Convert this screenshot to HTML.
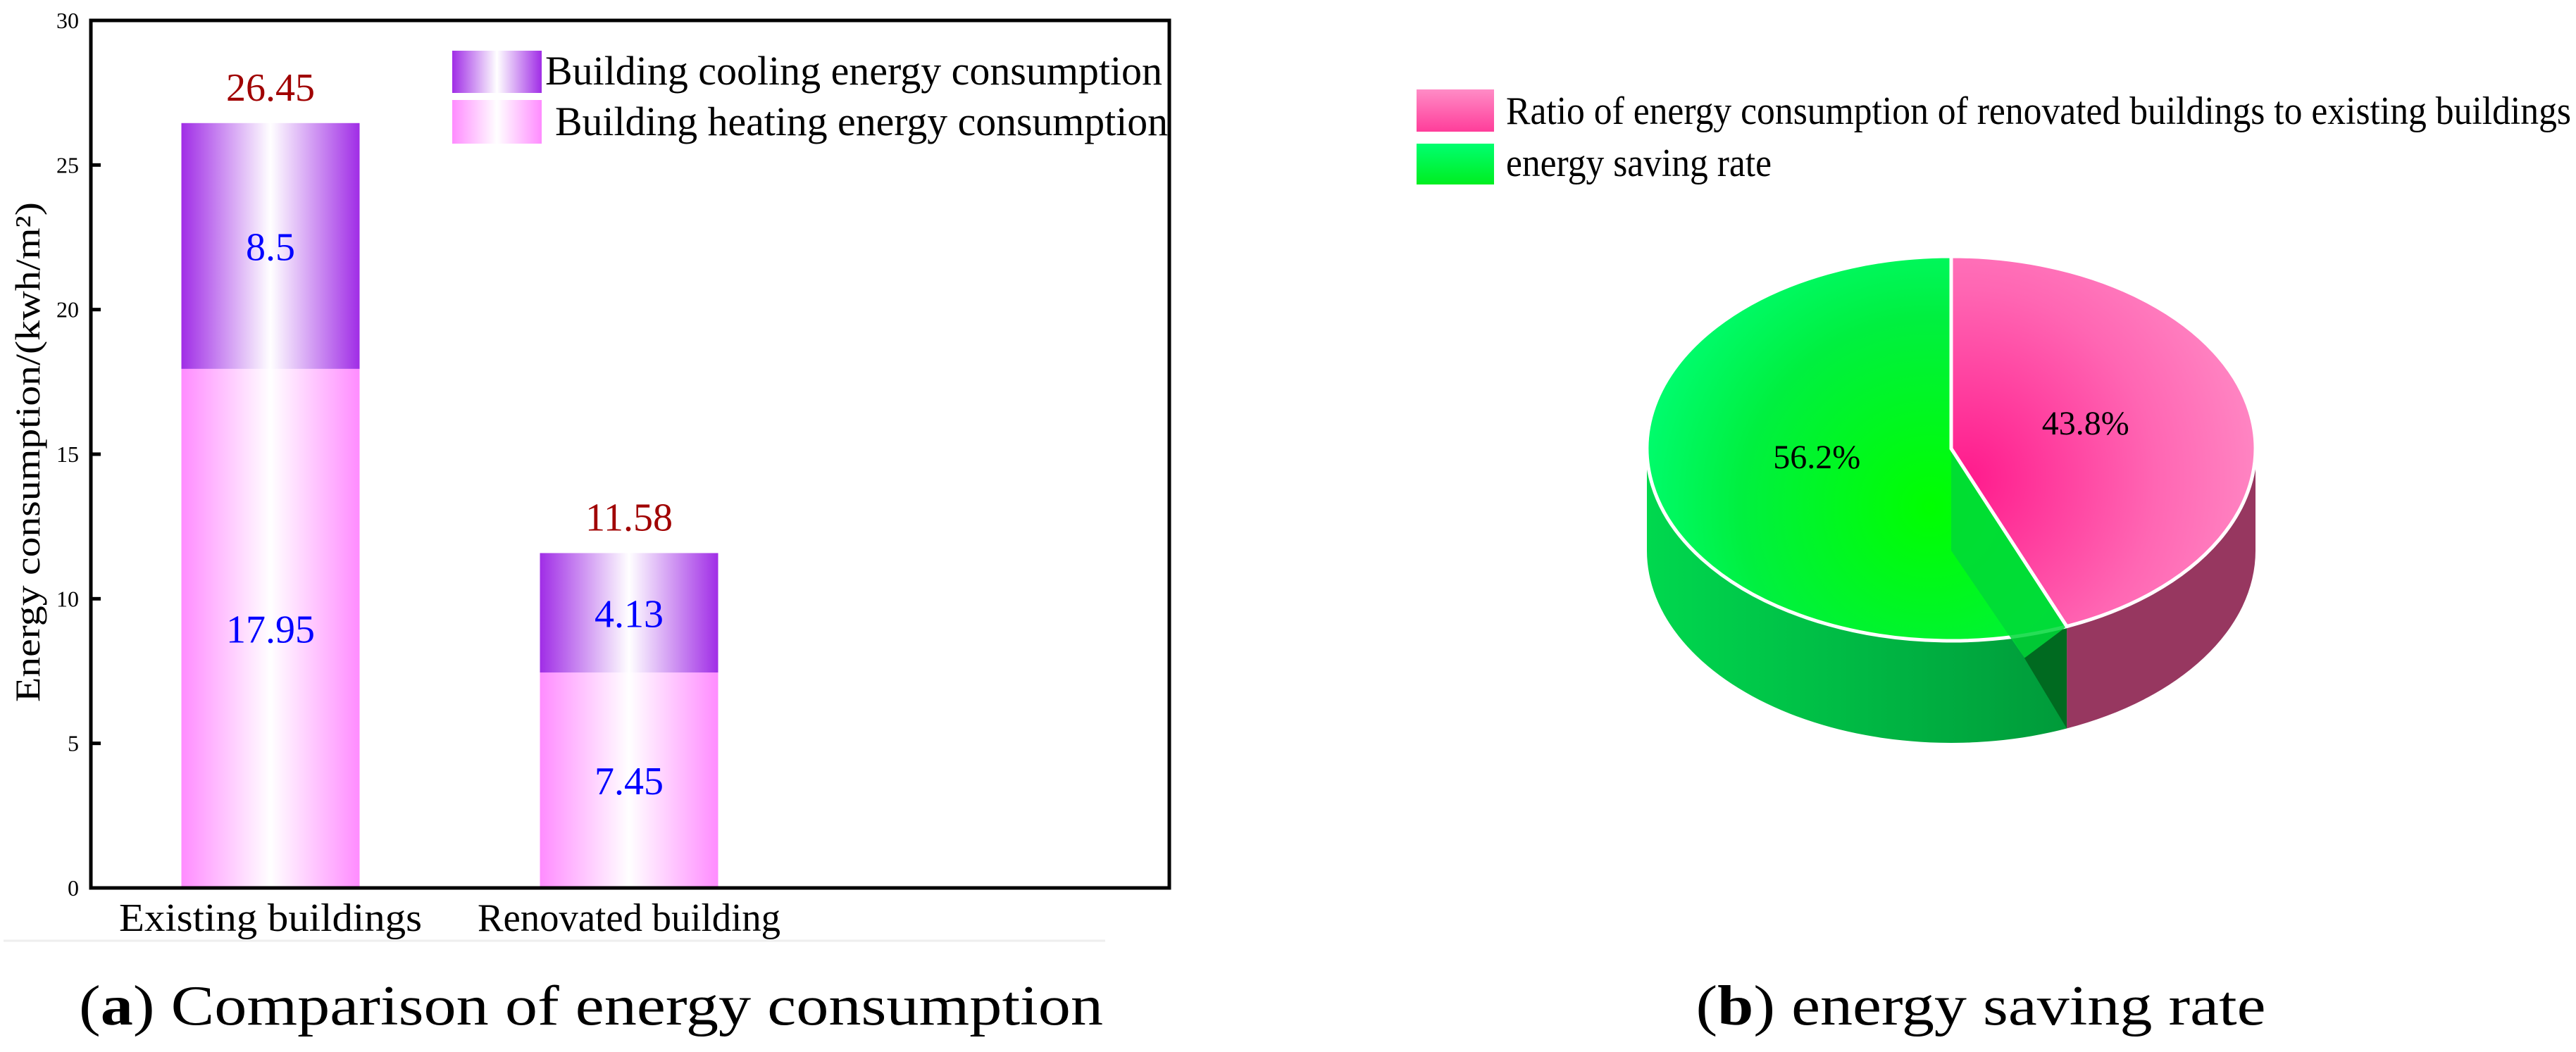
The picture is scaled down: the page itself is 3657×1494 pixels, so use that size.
<!DOCTYPE html>
<html><head><meta charset="utf-8"><style>
html,body{margin:0;padding:0;background:#fff;}
svg{display:block;font-family:"Liberation Serif",serif;}
</style></head><body>
<svg id="fig" width="3657" height="1494" viewBox="0 0 3657 1494" xmlns="http://www.w3.org/2000/svg">
<defs>
<linearGradient id="gHeat" x1="0" x2="1" y1="0" y2="0">
<stop offset="0" stop-color="#ff8cff"/><stop offset="0.5" stop-color="#ffffff"/><stop offset="1" stop-color="#ff8cff"/></linearGradient>
<linearGradient id="gCool" x1="0" x2="1" y1="0" y2="0">
<stop offset="0" stop-color="#a02de6"/><stop offset="0.5" stop-color="#ffffff"/><stop offset="1" stop-color="#a02de6"/></linearGradient>
<radialGradient id="gPinkTop" cx="2790" cy="680" r="450" gradientUnits="userSpaceOnUse">
<stop offset="0" stop-color="#ff1a8c"/><stop offset="0.6" stop-color="#ff66b3"/><stop offset="1" stop-color="#ff8cc6"/></radialGradient>
<radialGradient id="gGreenTop" cx="2740" cy="720" r="450" gradientUnits="userSpaceOnUse">
<stop offset="0" stop-color="#00ff00"/><stop offset="0.6" stop-color="#00f040"/><stop offset="1" stop-color="#00ff78"/></radialGradient>
<linearGradient id="gGreenSide" x1="0" x2="1" y1="0" y2="0">
<stop offset="0" stop-color="#00d84e"/><stop offset="1" stop-color="#009a3a"/></linearGradient>
<linearGradient id="gLegPink" x1="0" x2="0" y1="0" y2="1">
<stop offset="0" stop-color="#ff8cc6"/><stop offset="1" stop-color="#ff3d9a"/></linearGradient>
<linearGradient id="gLegGreen" x1="0" x2="0" y1="0" y2="1">
<stop offset="0" stop-color="#00ff70"/><stop offset="1" stop-color="#00ee20"/></linearGradient>
</defs>
<g id="barChart"></g>
<g id="pieChart"></g>
<line x1="5" y1="1336" x2="1569" y2="1336" stroke="#eeeeee" stroke-width="3"/>
<text x="839" y="1455" font-size="80" text-anchor="middle" textLength="1454" lengthAdjust="spacingAndGlyphs">(<tspan font-weight="bold">a</tspan>) Comparison of energy consumption</text>
<text x="2812" y="1455" font-size="80" text-anchor="middle" textLength="809" lengthAdjust="spacingAndGlyphs">(<tspan font-weight="bold">b</tspan>) energy saving rate</text>
</svg>
<script>
const categories = ["Existing buildings", "Renovated building"];
const heating = [17.95, 7.45];
const cooling = [8.5, 4.13];
const totals = [26.45, 11.58];
const yTicks = [0, 5, 10, 15, 20, 25, 30];
const pieLabels = ["Ratio of energy consumption of renovated buildings to existing buildings", "energy saving rate"];
const pieValues = [43.8, 56.2];

const NS = "http://www.w3.org/2000/svg";
function mk(parent, tag, attrs, text) {
  const e = document.createElementNS(NS, tag);
  for (const k in attrs) e.setAttribute(k, attrs[k]);
  if (text !== undefined) e.textContent = text;
  parent.appendChild(e);
  return e;
}
// ---- bar chart ----
const bc = document.getElementById("barChart");
const L = 129, R = 1660, T = 29, B = 1261, yMax = 30;
const yS = v => B - v / yMax * (B - T);
const xC = i => 384 + i * 509;
const bw = 253;
for (let i = 0; i < categories.length; i++) {
  const h = mk(bc, "rect", {x: xC(i) - bw/2, y: yS(heating[i]), width: bw, height: yS(0) - yS(heating[i]), fill: "url(#gHeat)"});
  
  
  const c = mk(bc, "rect", {x: xC(i) - bw/2, y: yS(heating[i] + cooling[i]), width: bw, height: yS(heating[i]) - yS(heating[i] + cooling[i]), fill: "url(#gCool)"});
  
  
  const t1 = mk(bc, "text", {x: xC(i), y: yS(heating[i] / 2) + 20, "font-size": 56, fill: "#0000ff", "text-anchor": "middle"}, String(heating[i]));
  
  
  const t2 = mk(bc, "text", {x: xC(i), y: yS(heating[i] + cooling[i] / 2) + 20, "font-size": 56, fill: "#0000ff", "text-anchor": "middle"}, String(cooling[i]));
  
  
  const t3 = mk(bc, "text", {x: xC(i), y: yS(totals[i]) - 32, "font-size": 56, fill: "#a00000", "text-anchor": "middle"}, String(totals[i]));
  
  
  const cl = mk(bc, "text", {x: xC(i), y: 1322, "font-size": 56, "text-anchor": "middle", textLength: 430, lengthAdjust: "spacingAndGlyphs"}, categories[i]);
  
  
}
const frame = mk(bc, "rect", {x: L, y: T, width: R - L, height: B - T, fill: "none", stroke: "#000", "stroke-width": 5});


for (const v of yTicks) {
  const tk = mk(bc, "line", {x1: L, x2: L + 14, y1: yS(v), y2: yS(v), stroke: "#000", "stroke-width": 5});
  
  
  const tl = mk(bc, "text", {x: 112, y: yS(v) + 11, "font-size": 32, "text-anchor": "end"}, String(v));
  
  
}
const yt = mk(bc, "text", {x: 0, y: 0, "font-size": 50, "text-anchor": "middle", textLength: 710, lengthAdjust: "spacingAndGlyphs", transform: "translate(56,642) rotate(-90)"}, "Energy consumption/(kwh/m²)");


// legend
const lg = mk(bc, "g", {});


const s1 = mk(lg, "rect", {x: 642, y: 72, width: 127, height: 60, fill: "url(#gCool)"});


const s2 = mk(lg, "rect", {x: 642, y: 142, width: 127, height: 62, fill: "url(#gHeat)"});


const l1 = mk(lg, "text", {x: 774, y: 120, "font-size": 58, textLength: 876, lengthAdjust: "spacingAndGlyphs"}, "Building cooling energy consumption");


const l2 = mk(lg, "text", {x: 788, y: 192, "font-size": 58, textLength: 870, lengthAdjust: "spacingAndGlyphs"}, "Building heating energy consumption");



// ---- pie chart ----
const pc = document.getElementById("pieChart");
const cx = 2770, cy = 637, rx = 432, ry = 273, depth = 145;
const total = pieValues[0] + pieValues[1];
const ang = pieValues[0] / total * 2 * Math.PI; // clockwise from top
const pt = (a, dy) => [cx + rx * Math.sin(a), cy - ry * Math.cos(a) + (dy || 0)];
const bnd = pt(ang), bndB = pt(ang, depth);
// sides
const pinkSide = mk(pc, "path", {d: `M${bnd[0]},${bnd[1]} A${rx},${ry} 0 0 0 ${cx+rx},${cy} L${cx+rx},${cy+depth} A${rx},${ry} 0 0 1 ${bndB[0]},${bndB[1]} Z`, fill: "#973760"});


const greenSide = mk(pc, "path", {d: `M${cx-rx},${cy} A${rx},${ry} 0 0 0 ${bnd[0]},${bnd[1]} L${bndB[0]},${bndB[1]} A${rx},${ry} 0 0 1 ${cx-rx},${cy+depth} Z`, fill: "url(#gGreenSide)"});


const dark = mk(pc, "path", {d: `M${bnd[0]-80},${bnd[1]+12} L${bnd[0]},${bnd[1]} L${bndB[0]},${bndB[1]} Z`, fill: "#006a20"});


// top faces
const large0 = ang > Math.PI ? 1 : 0;
const greenTop = mk(pc, "path", {d: `M${cx},${cy} L${bnd[0]},${bnd[1]} A${rx},${ry} 0 ${1-large0} 1 ${cx},${cy-ry} Z`, fill: "url(#gGreenTop)", stroke: "#fff", "stroke-width": 5});


const cut = mk(pc, "path", {d: `M${cx},${cy} L${cx},${cy+depth} L${bndB[0]-60},${bndB[1]-100} L${bnd[0]},${bnd[1]} Z`, fill: "#00d838", opacity: 0.85});


const pinkTop = mk(pc, "path", {d: `M${cx},${cy} L${cx},${cy-ry} A${rx},${ry} 0 ${large0} 1 ${bnd[0]},${bnd[1]} Z`, fill: "url(#gPinkTop)", stroke: "#fff", "stroke-width": 5});


const lblA = pt(ang / 2);
const p1 = mk(pc, "text", {x: cx + (lblA[0] - cx) * 0.45, y: cy - 20, "font-size": 48, "text-anchor": "middle"}, pieValues[0].toFixed(1) + "%");


const lblB = pt(ang + (2 * Math.PI - ang) / 2);
const p2 = mk(pc, "text", {x: cx + (lblB[0] - cx) * 0.45, y: cy + 28, "font-size": 48, "text-anchor": "middle"}, pieValues[1].toFixed(1) + "%");


// pie legend
const plg = mk(pc, "g", {});


const ps1 = mk(plg, "rect", {x: 2011, y: 127, width: 110, height: 60, fill: "url(#gLegPink)"});


const ps2 = mk(plg, "rect", {x: 2011, y: 204, width: 110, height: 58, fill: "url(#gLegGreen)"});


const pl1 = mk(plg, "text", {x: 2138, y: 176, "font-size": 56, textLength: 1512, lengthAdjust: "spacingAndGlyphs"}, pieLabels[0]);


const pl2 = mk(plg, "text", {x: 2138, y: 250, "font-size": 56, textLength: 377, lengthAdjust: "spacingAndGlyphs"}, pieLabels[1]);


</script>
</body></html>
